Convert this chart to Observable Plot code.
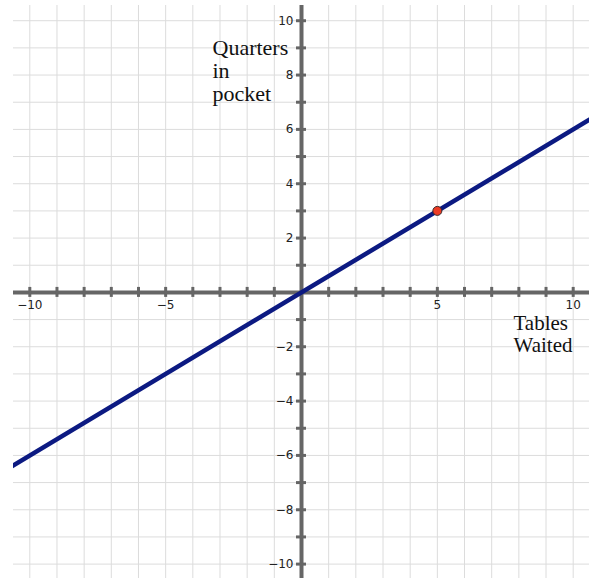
<!DOCTYPE html>
<html>
<head>
<meta charset="utf-8">
<script src="https://cdn.jsdelivr.net/npm/d3@7"></script>
<script src="https://cdn.jsdelivr.net/npm/@observablehq/plot@0.6"></script>
<style>
  html, body { margin: 0; padding: 0; background: #fff; }
  #chart svg { display: block; }
</style>
</head>
<body>
<div id="chart"></div>
<script>
// Data
const gridValues = d3.range(-10, 11);            // integer grid lines
const axisTickValues = gridValues.filter(d => d !== 0);
const xTickLabels = [-10, -5, 5, 10];
const yTickLabels = [-10, -8, -6, -4, -2, 2, 4, 6, 8, 10];
const lineX = [-11, 11];                         // Tables waited
const lineY = [-6.6, 6.6];                       // Quarters in pocket (y = 0.6x)
const pointX = [5];
const pointY = [3];
const xLabel = "Tables\nWaited";
const yLabel = "Quarters\nin\npocket";

const lineData = lineX.map((x, i) => ({x, y: lineY[i]}));
const pointData = pointX.map((x, i) => ({x, y: pointY[i]}));
const fmt = d => d < 0 ? "\u2212" + Math.abs(d) : String(d);

const axisColor = "#666";
const labelFont = "DejaVu Sans, sans-serif";
const serif = "Liberation Serif, Times New Roman, serif";

const chart = Plot.plot({
  width: 598,
  height: 578,
  marginLeft: 13,
  marginRight: 9,
  marginTop: 5,
  marginBottom: 0,
  x: {domain: [-10.6, 10.6], axis: null},
  y: {domain: [-10.53, 10.56], axis: null},
  marks: [
    // grid
    Plot.ruleX(gridValues, {stroke: "#dcdcdc", strokeWidth: 1}),
    Plot.ruleY(gridValues, {stroke: "#dcdcdc", strokeWidth: 1}),
    // axes
    Plot.ruleX([0], {stroke: axisColor, strokeWidth: 4}),
    Plot.ruleY([0], {stroke: axisColor, strokeWidth: 4}),
    // tick marks on axes
    Plot.ruleX(axisTickValues, {x: d => d, y1: 0, y2: 0, insetTop: -5, insetBottom: -5, stroke: axisColor, strokeWidth: 3}),
    Plot.ruleY(axisTickValues, {y: d => d, x1: 0, x2: 0, insetLeft: -5, insetRight: -5, stroke: axisColor, strokeWidth: 3}),
    // tick labels
    Plot.text(xTickLabels, {x: d => d, y: 0, text: fmt, dy: 13, fontSize: 12, fontFamily: labelFont, fill: "#222"}),
    Plot.text(yTickLabels, {x: 0, y: d => d, text: fmt, dx: -8, textAnchor: "end", fontSize: 12, fontFamily: labelFont, fill: "#222"}),
    // line
    Plot.line(lineData, {x: "x", y: "y", stroke: "#0c1a82", strokeWidth: 4.5, clip: true}),
    // point
    Plot.dot(pointData, {x: "x", y: "y", r: 4.5, fill: "#ec3b24", stroke: "#3a2a2a", strokeWidth: 1}),
    // axis titles
    Plot.text([yLabel], {frameAnchor: "top-left", dx: 199, dy: 33, textAnchor: "start", lineAnchor: "top",
      fontFamily: serif, fontSize: 22, lineHeight: 1.05, fill: "#111"}),
    Plot.text([xLabel], {frameAnchor: "top-left", dx: 500, dy: 309, textAnchor: "start", lineAnchor: "top",
      fontFamily: serif, fontSize: 21, lineHeight: 1.05, fill: "#111"})
  ]
});
document.getElementById("chart").appendChild(chart);
</script>
</body>
</html>
